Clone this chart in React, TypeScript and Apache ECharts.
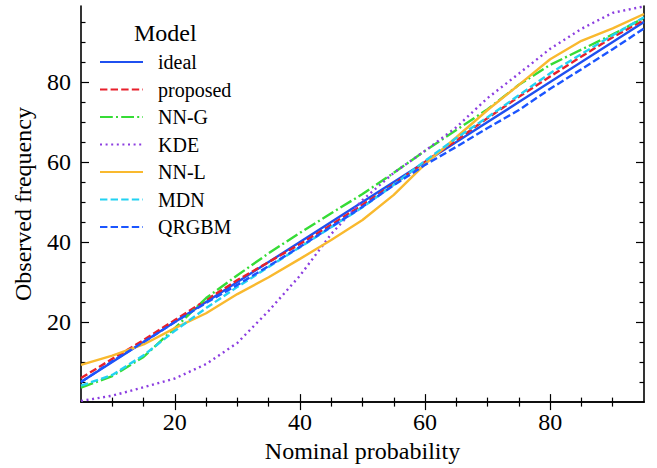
import React, { useEffect, useRef } from "react";
import * as echarts from "echarts";

// Nominal probability (x) sample points
const nominal = [5, 10, 15, 20, 25, 30, 35, 40, 45, 50, 55, 60, 65, 70, 75, 80, 85, 90, 95];

// Observed frequency per model
const ideal = [5, 10, 15, 20, 25, 30, 35, 40, 45, 50, 55, 60, 65, 70, 75, 80, 85, 90, 95];
const proposed = [6, 10.8, 15.5, 20.5, 25.5, 30.5, 35, 39.5, 44.3, 49.3, 54.5, 60, 65.4, 71, 76.3, 81.4, 86.4, 91.2, 95.5];
const nnG = [3.6, 6.5, 11.3, 18.5, 26, 31.7, 37.2, 42.3, 47.2, 52, 57.3, 62.8, 68, 73.2, 79.3, 84.3, 88.1, 91.9, 96];
const kde = [0.3, 1.6, 3.7, 5.9, 9.5, 14.8, 22.8, 31.6, 42, 50.5, 57.3, 62.8, 68.7, 76, 82.1, 88.3, 93.3, 97.3, 98.9];
const nnL = [9.3, 11.6, 14.4, 18.5, 22.2, 27, 31.2, 35.8, 40.5, 45.5, 51.8, 59.5, 66.2, 73, 79.3, 85.7, 90.3, 93.4, 97];
const mdn = [4.1, 6.8, 11.7, 17.8, 23.5, 28.8, 33.8, 38.7, 43.7, 48.7, 54.3, 60.3, 66, 71.2, 76.7, 82.2, 87, 91.7, 96.2];
const qrgbm = [5, 10.2, 15, 20, 24.8, 29.3, 34, 38.8, 43.8, 48.8, 54.2, 59.3, 63.8, 68.5, 73, 78.3, 83.2, 88.2, 93.4];

// Tick values
const xMajorTicks = [20, 40, 60, 80];
const xMinorTicks = [10, 15, 25, 30, 35, 45, 50, 55, 65, 70, 75, 85, 90];
const yMajorTicks = [20, 40, 60, 80];
const yMinorTicks = [5, 10, 15, 25, 30, 35, 45, 50, 55, 65, 70, 75, 85, 90, 95];

const FONT = "'Liberation Serif', 'Times New Roman', Times, serif";

export default function App() {
  const ref = useRef<HTMLDivElement>(null);

  useEffect(() => {
    if (!ref.current) return;
    const chart = echarts.init(ref.current, undefined, { renderer: "svg" });

    const axisLine = { show: true, lineStyle: { color: "#000", width: 1.6 } };
    const tickStyle = { color: "#000", width: 1.2 };
    const labelStyle = { fontFamily: FONT, fontSize: 24, color: "#000" };
    const nameStyle = { fontFamily: FONT, fontSize: 24, color: "#000" };

    const xBase = { type: "value", min: 5, max: 95, splitLine: { show: false }, gridIndex: 0 };
    const yBase = { type: "value", min: 0, max: 99, splitLine: { show: false }, gridIndex: 0 };

    const mk = (name: string, data: number[], color: string, type: any) => ({
      name,
      type: "line",
      data: nominal.map((x, i) => [x, data[i]]),
      showSymbol: false,
      symbol: "none",
      lineStyle: { color, width: 2.4, type },
      itemStyle: { color },
      xAxisIndex: 0,
      yAxisIndex: 0,
    });

    const dashed = [7.4, 3.2];

    chart.setOption({
      animation: false,
      backgroundColor: "#fff",
      title: {
        text: "Model",
        left: 134,
        top: 21,
        padding: 0,
        textStyle: { fontFamily: FONT, fontSize: 24, fontWeight: "normal", color: "#000" },
      },
      legend: {
        orient: "vertical",
        left: 99,
        top: 52,
        padding: 0,
        itemWidth: 43,
        itemHeight: 14,
        itemGap: 7.5,
        itemStyle: { opacity: 0 },
        textStyle: { fontFamily: FONT, fontSize: 20, color: "#000", padding: [0, 0, 0, 10] },
        data: ["ideal", "proposed", "NN-G", "KDE", "NN-L", "MDN", "QRGBM"],
      },
      grid: { left: 81, right: 13, top: 6, bottom: 65, containLabel: false },
      xAxis: [
        {
          ...xBase,
          position: "bottom",
          axisLine,
          axisTick: { show: true, inside: true, length: 8, customValues: xMajorTicks, lineStyle: tickStyle },
          axisLabel: { show: true, customValues: xMajorTicks, margin: 8, ...labelStyle },
          name: "Nominal probability",
          nameLocation: "middle",
          nameGap: 36,
          nameTextStyle: nameStyle,
        },
        {
          ...xBase,
          position: "bottom",
          axisLine: { show: false },
          axisTick: { show: true, inside: true, length: 4.5, customValues: xMinorTicks, lineStyle: tickStyle },
          axisLabel: { show: false },
        },
        {
          ...xBase,
          position: "top",
          axisLine,
          axisTick: { show: true, inside: true, length: 8, customValues: xMajorTicks, lineStyle: tickStyle },
          axisLabel: { show: false },
        },
        {
          ...xBase,
          position: "top",
          axisLine: { show: false },
          axisTick: { show: true, inside: true, length: 4.5, customValues: xMinorTicks, lineStyle: tickStyle },
          axisLabel: { show: false },
        },
      ],
      yAxis: [
        {
          ...yBase,
          position: "left",
          axisLine,
          axisTick: { show: true, inside: true, length: 8, customValues: yMajorTicks, lineStyle: tickStyle },
          axisLabel: { show: true, customValues: yMajorTicks, margin: 10, ...labelStyle },
          name: "Observed frequency",
          nameLocation: "middle",
          nameGap: 46,
          nameRotate: 90,
          nameTextStyle: nameStyle,
        },
        {
          ...yBase,
          position: "left",
          axisLine: { show: false },
          axisTick: { show: true, inside: true, length: 4.5, customValues: yMinorTicks, lineStyle: tickStyle },
          axisLabel: { show: false },
        },
        {
          ...yBase,
          position: "right",
          axisLine,
          axisTick: { show: true, inside: true, length: 8, customValues: yMajorTicks, lineStyle: tickStyle },
          axisLabel: { show: false },
        },
        {
          ...yBase,
          position: "right",
          axisLine: { show: false },
          axisTick: { show: true, inside: true, length: 4.5, customValues: yMinorTicks, lineStyle: tickStyle },
          axisLabel: { show: false },
        },
      ],
      series: [
        mk("ideal", ideal, "#1f50f0", "solid"),
        mk("proposed", proposed, "#e8202c", dashed),
        mk("NN-G", nnG, "#36dc36", [12.8, 3.2, 2, 3.2]),
        mk("KDE", kde, "#8c3ee0", [2, 3.6]),
        mk("NN-L", nnL, "#f9b92e", "solid"),
        mk("MDN", mdn, "#22d2f2", dashed),
        mk("QRGBM", qrgbm, "#1b55ff", dashed),
      ],
    });

    return () => chart.dispose();
  }, []);

  return (
    <div
      ref={ref}
      style={{ position: "fixed", left: 0, top: 0, width: 657, height: 468, background: "#fff" }}
    />
  );
}
